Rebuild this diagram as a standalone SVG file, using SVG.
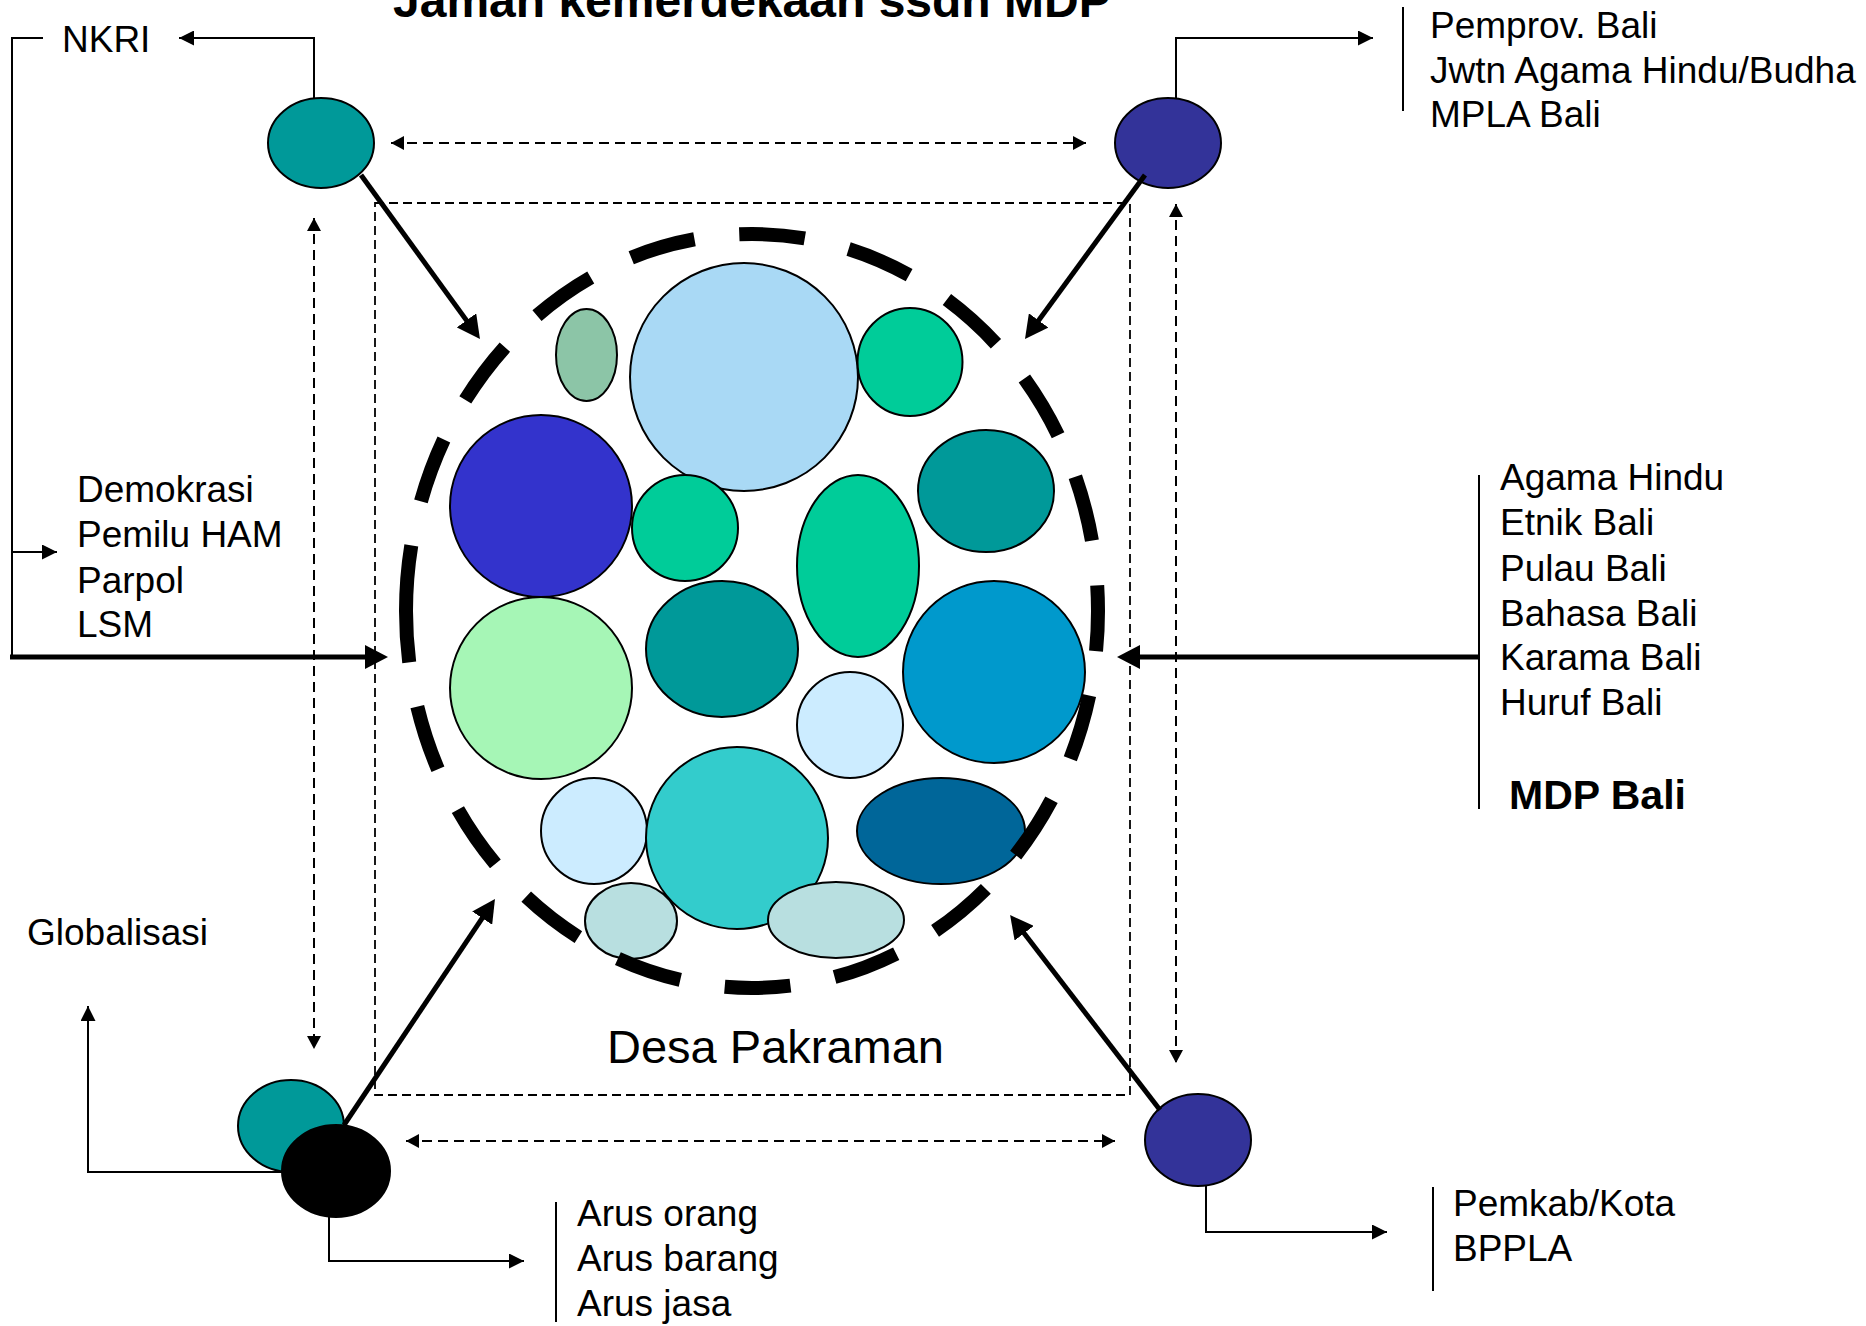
<svg xmlns="http://www.w3.org/2000/svg" width="1866" height="1326" viewBox="0 0 1866 1326">
<defs>
<style>
.t{font-family:"Liberation Sans",Arial,sans-serif;font-size:37px;fill:#000}
.b{font-weight:bold}
.c{stroke:#000;stroke-width:2}
.thin{fill:none;stroke:#000;stroke-width:2}
.thick{fill:none;stroke:#000;stroke-width:5}
.dash{fill:none;stroke:#000;stroke-width:2;stroke-dasharray:10 6}
.rect{fill:none;stroke:#000;stroke-width:1.8;stroke-dasharray:9 5}
.sep{stroke:#000;stroke-width:2}
</style>
<marker id="aT" markerUnits="userSpaceOnUse" viewBox="0 -12 23 24" markerWidth="23" markerHeight="24" refX="13" refY="0" orient="auto"><path d="M0,-12 L23,0 L0,12 z" fill="#000"/></marker>
<marker id="aS" markerUnits="userSpaceOnUse" viewBox="0 -7.5 15 15" markerWidth="15" markerHeight="15" refX="15" refY="0" orient="auto"><path d="M0,-7.5 L15,0 L0,7.5 z" fill="#000"/></marker>
<marker id="aD" markerUnits="userSpaceOnUse" viewBox="0 -7 13 14" markerWidth="13" markerHeight="14" refX="13" refY="0" orient="auto-start-reverse"><path d="M0,-7 L13,0 L0,7 z" fill="#000"/></marker>
</defs>
<rect width="1866" height="1326" fill="#fff"/>

<text class="t b" x="393" y="17" style="font-size:48px">Jaman kemerdekaan ssdn MDP</text>

<g id="frame">
<rect class="rect" x="375" y="203" width="755" height="892"/>
</g>

<g id="desa-pakraman">
<ellipse class="c" cx="586.5" cy="355" rx="30.5" ry="46" fill="#8CC5A7"/>
<circle class="c" cx="744" cy="377" r="114" fill="#A9D9F5"/>
<ellipse class="c" cx="910" cy="362" rx="52.5" ry="54" fill="#00CC99"/>
<circle class="c" cx="541" cy="506" r="91" fill="#3333CC"/>
<circle class="c" cx="685" cy="528" r="53" fill="#00CC99"/>
<ellipse class="c" cx="986" cy="491" rx="68" ry="61" fill="#009999"/>
<ellipse class="c" cx="858" cy="566" rx="61" ry="91" fill="#00CC99"/>
<ellipse class="c" cx="722" cy="649" rx="76" ry="68" fill="#009999"/>
<circle class="c" cx="541" cy="688" r="91" fill="#A6F6B6"/>
<circle class="c" cx="994" cy="672" r="91" fill="#0099CC"/>
<circle class="c" cx="850" cy="725" r="53" fill="#CCECFF"/>
<circle class="c" cx="594" cy="831" r="53" fill="#CCECFF"/>
<circle class="c" cx="737" cy="838" r="91" fill="#33CCCC"/>
<ellipse class="c" cx="941" cy="831" rx="84" ry="53" fill="#006699"/>
<ellipse class="c" cx="631" cy="921" rx="46" ry="38" fill="#B8DFE0"/>
<ellipse class="c" cx="836" cy="920" rx="68" ry="38" fill="#B8DFE0"/>
<path d="M406,611 A346,377 0 1 1 1098,611 A346,377 0 1 1 406,611" fill="none" stroke="#000" stroke-width="14" stroke-dasharray="66 45"/>
<text class="t" x="607" y="1063" style="font-size:47px">Desa Pakraman</text>
</g>

<g id="node-nkri"><ellipse class="c" cx="321" cy="143" rx="53" ry="45" fill="#009999"/></g>
<g id="node-pemprov"><ellipse class="c" cx="1168" cy="143" rx="53" ry="45" fill="#333399"/></g>
<g id="node-global">
<ellipse class="c" cx="291" cy="1126" rx="53" ry="46" fill="#009999"/>
<ellipse class="c" cx="336" cy="1171" rx="54" ry="46" fill="#000"/>
</g>
<g id="node-pemkab"><ellipse class="c" cx="1198" cy="1140" rx="53" ry="46" fill="#333399"/></g>

<g id="connectors">
<path class="thin" d="M314,98 V38 H179" marker-end="url(#aS)"/>
<path class="thin" d="M43,38 H12 V657"/>
<path class="thin" d="M12,552 H57" marker-end="url(#aS)"/>
<path class="thin" d="M1176,98 V38 H1373" marker-end="url(#aS)"/>
<path class="thin" d="M283,1172 H88 V1006" marker-end="url(#aS)"/>
<path class="thin" d="M329,1217 V1261 H524" marker-end="url(#aS)"/>
<path class="thin" d="M1206,1186 V1232 H1387" marker-end="url(#aS)"/>

<line class="thick" x1="10" y1="657" x2="378" y2="657" marker-end="url(#aT)"/>
<line class="thick" x1="1479" y1="657" x2="1127" y2="657" marker-end="url(#aT)"/>
<line class="thick" x1="361" y1="175" x2="474.1" y2="330.9" marker-end="url(#aT)"/>
<line class="thick" x1="1145" y1="175" x2="1030.9" y2="330.9" marker-end="url(#aT)"/>
<line class="thick" x1="344" y1="1125" x2="489.4" y2="907.3" marker-end="url(#aT)"/>
<line class="thick" x1="1160" y1="1110" x2="1016.2" y2="922.9" marker-end="url(#aT)"/>

<line class="dash" x1="391" y1="143" x2="1086" y2="143" marker-start="url(#aD)" marker-end="url(#aD)"/>
<line class="dash" x1="406" y1="1141" x2="1115" y2="1141" marker-start="url(#aD)" marker-end="url(#aD)"/>
<line class="dash" x1="314" y1="218" x2="314" y2="1049" marker-start="url(#aD)" marker-end="url(#aD)"/>
<line class="dash" x1="1176" y1="204" x2="1176" y2="1063" marker-start="url(#aD)" marker-end="url(#aD)"/>
</g>

<g id="label-nkri"><text class="t" x="62" y="52">NKRI</text></g>

<g id="label-pemprov">
<line class="sep" x1="1403" y1="7" x2="1403" y2="111"/>
<text class="t" x="1430" y="38">Pemprov. Bali</text>
<text class="t" x="1430" y="83">Jwtn Agama Hindu/Budha</text>
<text class="t" x="1430" y="127">MPLA Bali</text>
</g>

<g id="label-demokrasi">
<text class="t" x="77" y="502">Demokrasi</text>
<text class="t" x="77" y="547">Pemilu HAM</text>
<text class="t" x="77" y="593">Parpol</text>
<text class="t" x="77" y="637">LSM</text>
</g>

<g id="label-mdp">
<line class="sep" x1="1479" y1="475" x2="1479" y2="809"/>
<text class="t" x="1500" y="490">Agama Hindu</text>
<text class="t" x="1500" y="535">Etnik Bali</text>
<text class="t" x="1500" y="581">Pulau Bali</text>
<text class="t" x="1500" y="626">Bahasa Bali</text>
<text class="t" x="1500" y="670">Karama Bali</text>
<text class="t" x="1500" y="715">Huruf Bali</text>
<text class="t b" x="1509" y="809" style="font-size:41px">MDP Bali</text>
</g>

<g id="label-global"><text class="t" x="27" y="945">Globalisasi</text></g>

<g id="label-arus">
<line class="sep" x1="556" y1="1202" x2="556" y2="1322"/>
<text class="t" x="577" y="1226">Arus orang</text>
<text class="t" x="577" y="1271">Arus barang</text>
<text class="t" x="577" y="1316">Arus jasa</text>
</g>

<g id="label-pemkab">
<line class="sep" x1="1433" y1="1187" x2="1433" y2="1291"/>
<text class="t" x="1453" y="1216">Pemkab/Kota</text>
<text class="t" x="1453" y="1261">BPPLA</text>
</g>
</svg>
